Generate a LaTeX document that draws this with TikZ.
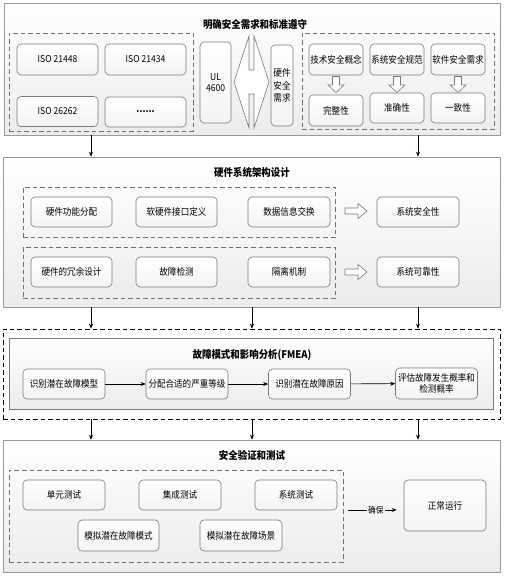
\documentclass[tikz,border=0pt]{standalone}
\usepackage{fontspec}
\setmainfont{Noto Sans CJK SC}[FakeStretch=0.9]
\usetikzlibrary{arrows.meta}
\definecolor{secgray}{HTML}{9A9A9A}
\definecolor{boxgray}{HTML}{7A7A7A}
\definecolor{dashgray}{HTML}{707070}
\begin{document}
\begin{tikzpicture}[x=1pt,y=-1pt,
  section/.style={draw=secgray, line width=0.6pt, top color=white, bottom color=gray!15, inner sep=0pt},
  box/.style={draw=boxgray, rounded corners=4pt, line width=0.6pt, top color=white, bottom color=gray!9,
    font=\fontsize{9.5}{11}\selectfont, align=center, inner sep=1pt},
  dashbox/.style={draw=dashgray, dash pattern=on 4.5pt off 3pt, line width=0.6pt, inner sep=0pt},
  blackdash/.style={draw=black, dash pattern=on 4.5pt off 3pt, line width=0.6pt, inner sep=0pt},
  sectitle/.style={font=\bfseries\fontsize{10.5}{12}\selectfont},
  conn/.style={-{Stealth[length=5pt,width=4pt]}, line width=0.6pt},
  hollow/.style={draw=boxgray, fill=white, line width=0.6pt, line join=miter}
]
\useasboundingbox (0,0) rectangle (504,577);

% ---------- Section 1 ----------
\node[section, minimum width=496pt, minimum height=132pt] (s1) at (252,69) {};
\node[sectitle] (t1) at (255,24) {明确安全需求和标准遵守};
\node[dashbox, minimum width=184pt, minimum height=98pt] (d1a) at (101,82) {};
\node[box, minimum width=81pt, minimum height=31pt] (iso1) at (57.5,59.5) {ISO 21448};
\node[box, minimum width=81pt, minimum height=31pt] (iso2) at (145.5,59.5) {ISO 21434};
\node[box, minimum width=81pt, minimum height=30pt] (iso3) at (57.5,111.5) {ISO 26262};
\node[box, minimum width=81pt, minimum height=30pt, font=\bfseries\fontsize{9.5}{11}\selectfont] (iso4) at (145.5,112) {......};
\node[box, minimum width=31pt, minimum height=81pt] (ul) at (215.5,82.5) {UL\\4600};
\draw[hollow] (234,82) -- (249,36) -- (249,70) -- (254,70) -- (254,36) -- (269,82)
  -- (254,128) -- (254,94) -- (249,94) -- (249,128) -- cycle;
\node[box, minimum width=22pt, minimum height=81pt, inner sep=0pt, font=\fontsize{9.5}{12.5}\selectfont] (hw) at (282,85.5) {硬件\\安全\\需求};
\node[dashbox, minimum width=192pt, minimum height=96pt] (d1b) at (398,81) {};
\node[box, minimum width=54pt, minimum height=31pt, inner sep=0pt] (k1) at (336,59.5) {技术安全概念};
\node[box, minimum width=54pt, minimum height=31pt, inner sep=0pt] (k2) at (397,59.5) {系统安全规范};
\node[box, minimum width=54pt, minimum height=31pt, inner sep=0pt] (k3) at (458,59.5) {软件安全需求};
\node[box, minimum width=54pt, minimum height=31pt] (p1) at (336,110.5) {完整性};
\node[box, minimum width=54pt, minimum height=30pt] (p2) at (397,108) {准确性};
\node[box, minimum width=54pt, minimum height=30pt] (p3) at (458,108) {一致性};
\foreach \cx in {336,397,458}{
  \draw[hollow] ({\cx-3.5},76.5) -- ({\cx+3.5},76.5) -- ({\cx+3.5},85) -- ({\cx+8},85)
    -- (\cx,92.5) -- ({\cx-8},85) -- ({\cx-3.5},85) -- cycle;
}

% column coordinates
\coordinate (cA) at (91,0);
\coordinate (cB) at (252,0);
\coordinate (cC) at (418,0);

% ---------- Section 2 ----------
\node[section, minimum width=497pt, minimum height=150pt] (s2) at (251.5,232) {};
\node[sectitle] (t2) at (252,173) {硬件系统架构设计};
\node[dashbox, minimum width=312pt, minimum height=50pt] (d2a) at (179,212) {};
\node[dashbox, minimum width=312pt, minimum height=51pt] (d2b) at (179,272.5) {};
\node[box, minimum width=81pt, minimum height=30pt] (a1) at (71.5,212) {硬件功能分配};
\node[box, minimum width=81pt, minimum height=30pt] (a2) at (176.5,212) {软硬件接口定义};
\node[box, minimum width=82pt, minimum height=30pt] (a3) at (289,212) {数据信息交换};
\node[box, minimum width=82pt, minimum height=30pt] (r1) at (418,212) {系统安全性};
\node[box, minimum width=81pt, minimum height=30pt] (b1) at (71.5,272) {硬件的冗余设计};
\node[box, minimum width=81pt, minimum height=30pt] (b2) at (176.5,272) {故障检测};
\node[box, minimum width=82pt, minimum height=30pt] (b3) at (289,272) {隔离机制};
\node[box, minimum width=82pt, minimum height=30pt] (r2) at (418,272) {系统可靠性};
\foreach \cy in {211,272}{
  \draw[hollow] (345,{\cy-3}) -- (358,{\cy-3}) -- (358,{\cy-7.5}) -- (367,\cy)
    -- (358,{\cy+7.5}) -- (358,{\cy+3}) -- (345,{\cy+3}) -- cycle;
}

% ---------- Section 3 ----------
\node[blackdash, minimum width=497pt, minimum height=90pt] (d3) at (251.5,374) {};
\node[section, draw=boxgray, minimum width=484pt, minimum height=71pt] (s3) at (251,373.5) {};
\node[sectitle] (t3) at (252,355) {故障模式和影响分析(FMEA)};
\node[box, minimum width=82pt, minimum height=30pt] (f1) at (64,384) {识别潜在故障模型};
\node[box, minimum width=82pt, minimum height=30pt] (f2) at (187,384) {分配合适的严重等级};
\node[box, minimum width=82pt, minimum height=30pt] (f3) at (309.5,384) {识别潜在故障原因};
\node[box, minimum width=82pt, minimum height=31pt, inner sep=0pt, font=\fontsize{9.5}{10.5}\selectfont] (f4) at (436.5,383.5) {评估故障发生概率和\\检测概率};
\draw[conn] (f1) -- (f2);
\draw[conn] (f2) -- (f3);
\draw[conn] (f3) -- (f4);

% ---------- Section 4 ----------
\node[section, minimum width=497pt, minimum height=132pt] (s4) at (251.5,506) {};
\node[sectitle] (t4) at (252,455) {安全验证和测试};
\node[dashbox, minimum width=334pt, minimum height=92pt] (d4) at (176,516) {};
\node[box, minimum width=82pt, minimum height=30pt] (v1) at (64,495) {单元测试};
\node[box, minimum width=82pt, minimum height=30pt] (v2) at (180,495) {集成测试};
\node[box, minimum width=82pt, minimum height=30pt] (v3) at (296,495) {系统测试};
\node[box, minimum width=81pt, minimum height=31pt] (v4) at (118.5,535.5) {模拟潜在故障模式};
\node[box, minimum width=82pt, minimum height=31pt] (v5) at (241,535.5) {模拟潜在故障场景};
\node[box, minimum width=82pt, minimum height=51pt] (ok) at (445,505.5) {正常运行};
\coordinate (e1) at (348,510);
\draw[conn, shorten >=7pt] (e1) -- node[fill=gray!9, inner sep=1pt, font=\fontsize{8.5}{10}\selectfont] (lb) {确保} (e1 -| ok.west);

% ---------- Connectors between sections ----------
\draw[conn] (s1.south -| cA) -- (s2.north -| cA);
\draw[conn] (s1.south -| cC) -- (s2.north -| cC);
\draw[conn] (s2.south -| cA) -- (d3.north -| cA);
\draw[conn] (s2.south -| cB) -- (d3.north -| cB);
\draw[conn] (s2.south -| cC) -- (d3.north -| cC);
\draw[conn] (d3.south -| cA) -- (s4.north -| cA);
\draw[conn] (d3.south -| cB) -- (s4.north -| cB);
\draw[conn] (d3.south -| cC) -- (s4.north -| cC);
\end{tikzpicture}
\end{document}
